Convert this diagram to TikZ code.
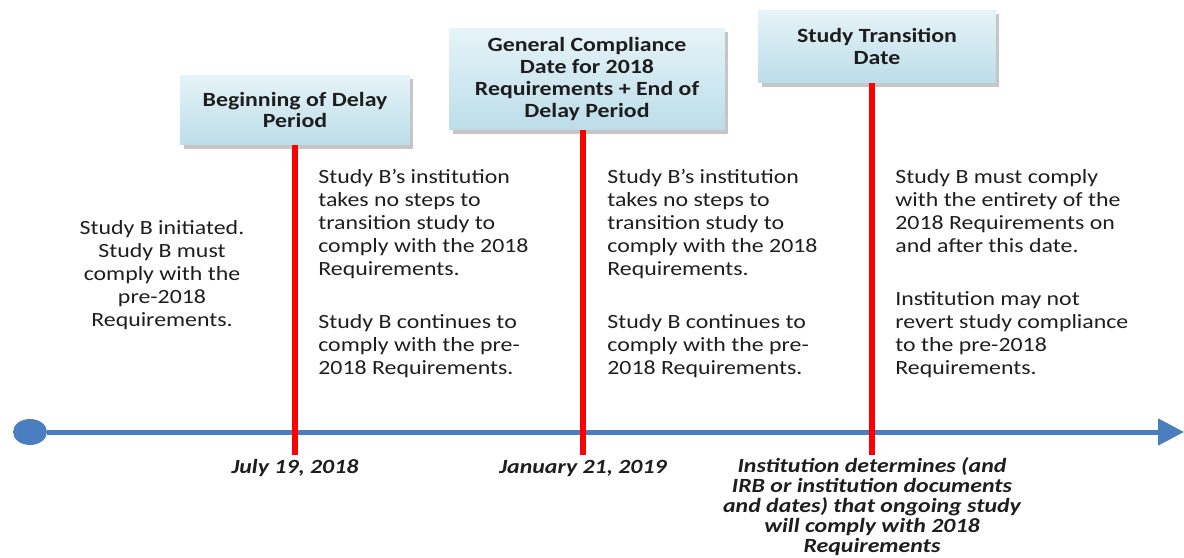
\documentclass[tikz,border=0pt]{standalone}
\usepackage{fontspec}
\setmainfont{Carlito}[FakeStretch=1.18]
\usetikzlibrary{arrows.meta,shadows,shapes.geometric}

\definecolor{lineblue}{HTML}{4A7EBE}
\definecolor{boxtop}{HTML}{E6F4F8}
\definecolor{boxbottom}{HTML}{BCDDE9}
\definecolor{darktext}{HTML}{1E1E1E}

\tikzset{
  datebox/.style={top color=boxtop, bottom color=boxbottom,
    drop shadow={opacity=0.45, shadow xshift=2pt, shadow yshift=-2pt},
    align=center, text=darktext, inner sep=0,
    font=\bfseries\fontsize{11.5}{12.4}\selectfont},
  marker/.style={red, line width=0.12cm},
  note/.style={align=left, text=darktext, inner sep=0,
    font=\fontsize{11.5}{13.1}\selectfont},
  datelabel/.style={align=center, text=darktext, inner sep=0,
    font=\bfseries\itshape\fontsize{11.5}{11.4}\selectfont}
}

\begin{document}
\begin{tikzpicture}[x=0.02cm, y=-0.02cm]
  \useasboundingbox (0,0) rectangle (1184,558);

  % Draw the time line
  \node[ellipse, fill=lineblue, minimum width=0.68cm, minimum height=0.52cm, inner sep=0] (start) at (30,432) {};
  \coordinate (stop) at (1184,432);
  \draw[lineblue, line width=0.1cm, -{Triangle[length=0.52cm, width=0.52cm]}] (start) -- (stop);

  % Place the date boxes
  \node[datebox, minimum width=4.6cm, minimum height=1.4cm] (delay) at (295,110) {Beginning of Delay\\Period};
  \node[datebox, minimum width=5.5cm, minimum height=2.04cm] (general) at (587,79) {General Compliance\\Date for 2018\\Requirements + End of\\Delay Period};
  \node[datebox, minimum width=4.76cm, minimum height=1.46cm] (transition) at (877,46.5) {Study Transition\\Date};

  % Red markers down to the time line
  \coordinate (m1) at (295,455);
  \coordinate (m2) at (583,455);
  \coordinate (m3) at (872,455);
  \draw[marker] (delay.south -| m1) -- (m1);
  \draw[marker] (general.south -| m2) -- (m2);
  \draw[marker] (transition.south -| m3) -- (m3);

  % Notes between the markers
  \node[note, align=center, anchor=north] (initiated) at (162,220) {Study B initiated.\\Study B must\\comply with the\\pre-2018\\Requirements.};
  \node[note, anchor=north west] (before) at (318,169) {Study B’s institution\\takes no steps to\\transition study to\\comply with the 2018\\Requirements.\\[17pt]Study B continues to\\comply with the pre-\\2018 Requirements.};
  \node[note, anchor=north west] (after) at (607,169) {Study B’s institution\\takes no steps to\\transition study to\\comply with the 2018\\Requirements.\\[17pt]Study B continues to\\comply with the pre-\\2018 Requirements.};
  \node[note, anchor=north west] (entirety) at (895,169) {Study B must comply\\with the entirety of the\\2018 Requirements on\\and after this date.\\[17pt]Institution may not\\revert study compliance\\to the pre-2018\\Requirements.};

  % Dates under the time line
  \node[datelabel, anchor=base] (july) at (295,473) {July 19, 2018};
  \node[datelabel, anchor=base] (january) at (583,473) {January 21, 2019};
  \node[datelabel, anchor=north] (determines) at (872,457) {Institution determines (and\\IRB or institution documents\\and dates) that ongoing study\\will comply with 2018\\Requirements};
\end{tikzpicture}
\end{document}
